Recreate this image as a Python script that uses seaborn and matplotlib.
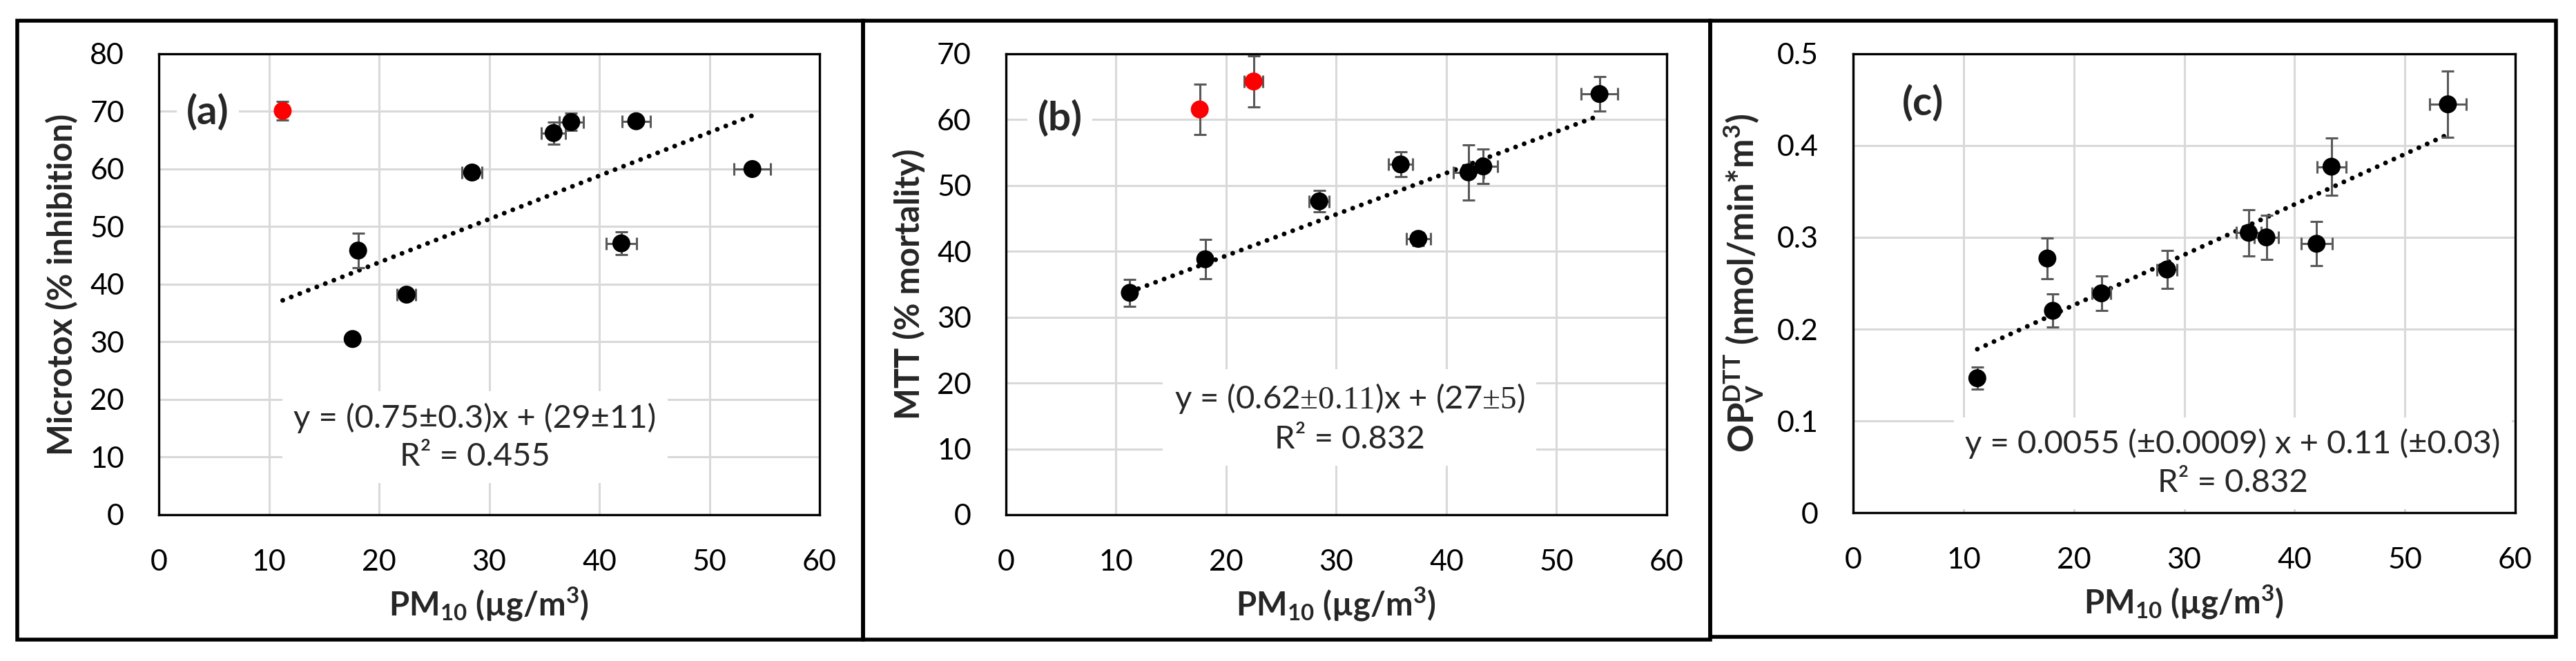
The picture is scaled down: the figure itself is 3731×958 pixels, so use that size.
import numpy as np
import pandas as pd
import matplotlib
matplotlib.use("Agg")
import matplotlib.pyplot as plt
from matplotlib.patches import Rectangle
from matplotlib.ticker import FuncFormatter, MultipleLocator
import seaborn as sns

# PM10 (ug/m3) per site, with its uncertainty (same for the three panels)
pm10 = [11.25, 17.6, 18.1, 22.5, 28.45, 35.85, 37.45, 42.0, 43.35, 53.9]
pm10_err = [0.3, 0.35, 0.45, 0.85, 0.9, 1.1, 1.1, 1.4, 1.3, 1.65]

# (a) Microtox (% inhibition)
microtox = [70.1, 30.5, 45.85, 38.2, 59.4, 66.25, 68.15, 47.1, 68.3, 60.0]
microtox_err = [1.6, 0.5, 3.0, 0.8, 0.9, 1.9, 1.5, 2.0, 0.6, 0.6]
microtox_out = [True, False, False, False, False, False, False, False, False, False]

# (b) MTT (% mortality)
mtt = [33.7, 61.55, 38.8, 65.8, 47.6, 53.2, 41.9, 52.0, 52.9, 63.9]
mtt_err = [2.05, 3.85, 3.0, 3.85, 1.65, 1.9, 1.0, 4.2, 2.6, 2.6]
mtt_out = [False, True, False, True, False, False, False, False, False, False]

# (c) OP DTT_v (nmol/min*m3)
opdtt = [0.1465, 0.277, 0.220, 0.239, 0.265, 0.305, 0.300, 0.293, 0.377, 0.445]
opdtt_err = [0.012, 0.022, 0.018, 0.019, 0.021, 0.025, 0.024, 0.024, 0.031, 0.036]
opdtt_out = [False] * 10

sns.set_theme(style="whitegrid")
plt.rcParams['font.family'] = ['Lato', 'DejaVu Sans']
plt.rcParams['mathtext.fontset'] = 'custom'
plt.rcParams['mathtext.rm'] = 'Liberation Serif'
plt.rcParams['mathtext.default'] = 'regular'

FS_TICK = 31
FS_XLAB = 34
FS_EQ = 34
FS_TAG = 42

fig = plt.figure(figsize=(37.31, 9.58), dpi=100)

# outer frames around each panel
for x0, y0, x1, y1 in [(25, 30, 1250, 927), (1250, 30, 2477, 927), (2477, 30, 3702, 923)]:
    fig.add_artist(Rectangle((x0 / 3731, 1 - y1 / 958), (x1 - x0) / 3731, (y1 - y0) / 958,
                             transform=fig.transFigure, fill=False, lw=4, ec='black'))

panels = [
    dict(pos=[0.06165, 0.2213, 0.2565, 0.6973], y=microtox, yerr=microtox_err, out=microtox_out,
         ymax=80, ystep=10, ylabel='Microtox (% inhibition)', ylab_fs=35, tag='(a)', tag_xy=(4.45, 69.9),
         eq='y = (0.75±0.3)x + (29±11)\nR² = 0.455', eq_xy=(28.7, 13.5)),
    dict(pos=[0.3905, 0.2213, 0.2565, 0.6973], y=mtt, yerr=mtt_err, out=mtt_out,
         ymax=70, ystep=10, ylabel='MTT (% mortality)', ylab_fs=35, tag='(b)', tag_xy=(4.9, 60.2),
         eq='y = (0.62$\\mathrm{±0.11}$)x + (27$\\mathrm{±5}$)\nR² = 0.832', eq_xy=(31.2, 14.7)),
    dict(pos=[0.7194, 0.2244, 0.2570, 0.6942], y=opdtt, yerr=opdtt_err, out=opdtt_out,
         ymax=0.5, ystep=0.1, ylabel='OP$^{DTT}_{V}$ (nmol/min*m$^{3}$)', ylab_fs=36.5, tag='(c)',
         tag_xy=(6.3, 0.446),
         eq='y = 0.0055 (±0.0009) x + 0.11 (±0.03)\nR² = 0.832', eq_xy=(34.4, 0.054)),
]

for p in panels:
    ax = fig.add_axes(p['pos'])
    df = pd.DataFrame({'pm10': pm10, 'xerr': pm10_err, 'y': p['y'], 'yerr': p['yerr'], 'out': p['out']})

    # trendline fitted on the black points only
    fit = df[~df['out']]
    slope, icpt = np.polyfit(fit['pm10'], fit['y'], 1)
    xs = np.array([df['pm10'].min(), df['pm10'].max()])
    ax.plot(xs, slope * xs + icpt, color='black', lw=5, linestyle=(0, (0.01, 1.9)),
            dash_capstyle='round', zorder=2)

    ax.errorbar(df['pm10'], df['y'], xerr=df['xerr'], yerr=df['yerr'], fmt='none',
                ecolor='#595959', elinewidth=2.2, capsize=6.8, capthick=2.2, zorder=3)
    sns.scatterplot(data=df, x='pm10', y='y', hue='out', palette={False: 'black', True: '#ff0000'},
                    s=350, linewidth=0, legend=False, ax=ax, zorder=4)

    ax.set_xlim(0, 60)
    ax.set_ylim(0, p['ymax'])
    ax.xaxis.set_major_locator(MultipleLocator(10))
    ax.yaxis.set_major_locator(MultipleLocator(p['ystep']))
    ax.yaxis.set_major_formatter(FuncFormatter(lambda v, _: '{:g}'.format(round(v, 3))))
    ax.tick_params(length=0, pad=36, labelsize=FS_TICK, colors='black')
    ax.grid(True, color='#d9d9d9', lw=2.2)
    ax.set_axisbelow(True)
    for s in ax.spines.values():
        s.set_color('black')
        s.set_linewidth(2.4)

    ax.set_xlabel('PM$_{10}$ (µg/m$^{3}$)', fontsize=FS_XLAB, fontweight='bold', labelpad=10)
    ax.set_ylabel(p['ylabel'], fontsize=p['ylab_fs'], fontweight='bold', labelpad=12)

    ax.text(*p['tag_xy'], p['tag'], fontsize=FS_TAG, fontweight='bold', ha='center', va='center',
            bbox=dict(boxstyle='square,pad=0.25', fc='white', ec='none'), zorder=5)
    ax.text(*p['eq_xy'], p['eq'], fontsize=FS_EQ, ha='center', va='center', linespacing=1.4,
            bbox=dict(boxstyle='square,pad=0.35', fc='white', ec='none'), zorder=5)

fig.savefig('out.png', dpi=100, facecolor='white')
